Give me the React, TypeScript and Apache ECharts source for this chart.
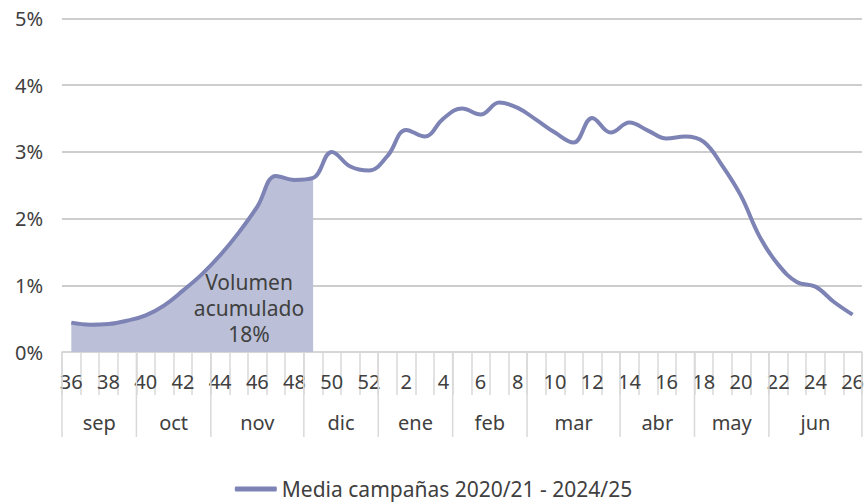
import React, { useEffect, useRef } from "react";
import * as echarts from "echarts";

const weeks = [
  "36", "37", "38", "39", "40", "41", "42", "43", "44", "45", "46", "47", "48", "49", "50", "51", "52",
  "1", "2", "3", "4", "5", "6", "7", "8", "9", "10", "11", "12", "13", "14", "15", "16", "17", "18", "19",
  "20", "21", "22", "23", "24", "25", "26",
];

const media = [
  0.44, 0.41, 0.42, 0.47, 0.55, 0.7, 0.92, 1.16, 1.45, 1.79, 2.18, 2.64, 2.58, 2.61, 3.0, 2.78, 2.72,
  2.94, 3.33, 3.23, 3.5, 3.65, 3.56, 3.74, 3.66, 3.48, 3.29, 3.14, 3.51, 3.29, 3.44, 3.32, 3.2, 3.23,
  3.15, 2.79, 2.34, 1.73, 1.31, 1.05, 0.98, 0.75, 0.56,
];

const yTicks = [0, 1, 2, 3, 4, 5];

const months = ["sep", "oct", "nov", "dic", "ene", "feb", "mar", "abr", "may", "jun"];
const monthStart = [0, 4, 8, 13, 17, 21, 25, 30, 34, 38];
const monthEnd = [3, 7, 12, 16, 20, 24, 29, 33, 37, 42];

const accumulatedLastIndex = 13; // week 49
const annotation = "Volumen\nacumulado\n18%";
const seriesName = "Media campañas 2020/21 - 2024/25";

const FONT = "'Noto Sans', 'DejaVu Sans', sans-serif";
const TEXT = "#404040";
const LINE = "#7d83b4";
const FILL = "#bbc0d8";
const SEP = "#d9d9d9";

export default function App() {
  const ref = useRef<HTMLDivElement>(null);

  useEffect(() => {
    if (!ref.current) return;
    const chart = echarts.init(ref.current, undefined, { renderer: "svg" });
    const fillData = media.map((v, i) => (i <= accumulatedLastIndex ? v : "-"));
    const monthData = months.map((_, i) => [monthStart[i], monthEnd[i], 0]);

    chart.setOption({
      animation: false,
      textStyle: { fontFamily: FONT },
      grid: { left: 62, right: 1, top: 18.5, bottom: 152, containLabel: false },
      legend: {
        data: [seriesName],
        top: 476,
        left: "center",
        padding: 0,
        icon: "roundRect",
        itemWidth: 42,
        itemHeight: 5,
        itemGap: 10,
        textStyle: { fontSize: 21, lineHeight: 26, color: TEXT, fontFamily: FONT },
      },
      xAxis: {
        type: "category",
        data: weeks,
        boundaryGap: true,
        axisLine: { show: true, lineStyle: { color: SEP, width: 1.5 } },
        axisTick: {
          show: true,
          interval: 0,
          length: 43,
          lineStyle: { color: SEP, width: 1.5 },
        },
        axisLabel: {
          interval: 1,
          margin: 19,
          fontSize: 20,
          color: TEXT,
          fontFamily: FONT,
        },
        splitLine: { show: false },
      },
      yAxis: {
        type: "value",
        min: yTicks[0],
        max: yTicks[yTicks.length - 1],
        interval: 1,
        axisLine: { show: false },
        axisTick: { show: false },
        axisLabel: {
          formatter: "{value}%",
          fontSize: 20,
          color: TEXT,
          margin: 19,
          fontFamily: FONT,
        },
        splitLine: { show: true, lineStyle: { color: "#bdbdbd", width: 1.5 } },
      },
      graphic: [
        {
          type: "text",
          x: 249,
          y: 308,
          z: 10,
          style: {
            text: annotation,
            align: "center",
            verticalAlign: "middle",
            fontSize: 21,
            lineHeight: 26,
            fill: TEXT,
            fontFamily: FONT,
          },
        },
      ],
      series: [
        {
          name: "acumulado",
          type: "line",
          data: fillData,
          smooth: 0.4,
          symbol: "none",
          lineStyle: { width: 0, color: FILL },
          itemStyle: { color: FILL },
          areaStyle: { color: FILL, opacity: 1 },
          z: 1,
          silent: true,
        },
        {
          name: seriesName,
          type: "line",
          data: media,
          smooth: 0.4,
          symbol: "none",
          lineStyle: { width: 4, color: LINE },
          itemStyle: { color: LINE },
          z: 3,
        },
        {
          name: "months",
          type: "custom",
          silent: true,
          clip: false,
          encode: { x: [0, 1], y: 2 },
          data: monthData,
          renderItem: (params: any, api: any) => {
            const i = params.dataIndex;
            const s = api.value(0);
            const e = api.value(1);
            const w = api.size([1, 0])[0];
            const p0 = api.coord([s, 0]);
            const p1 = api.coord([e, 0]);
            const left = p0[0] - w / 2;
            const right = p1[0] + w / 2;
            const y0 = p0[1];
            const children: any[] = [
              {
                type: "line",
                shape: { x1: left, y1: y0, x2: left, y2: y0 + 85 },
                style: { stroke: SEP, lineWidth: 1.5 },
              },
              {
                type: "text",
                x: (left + right) / 2,
                y: y0 + 70,
                style: {
                  text: months[i],
                  align: "center",
                  verticalAlign: "middle",
                  fontSize: 20,
                  fill: TEXT,
                  fontFamily: FONT,
                },
              },
            ];
            if (i === months.length - 1) {
              children.push({
                type: "line",
                shape: { x1: right, y1: y0, x2: right, y2: y0 + 85 },
                style: { stroke: SEP, lineWidth: 1.5 },
              });
            }
            return { type: "group", children };
          },
        },
      ],
    });

    return () => chart.dispose();
  }, []);

  return (
    <div
      ref={ref}
      style={{ position: "fixed", left: 0, top: 0, width: 867, height: 504, background: "#fff" }}
    />
  );
}
